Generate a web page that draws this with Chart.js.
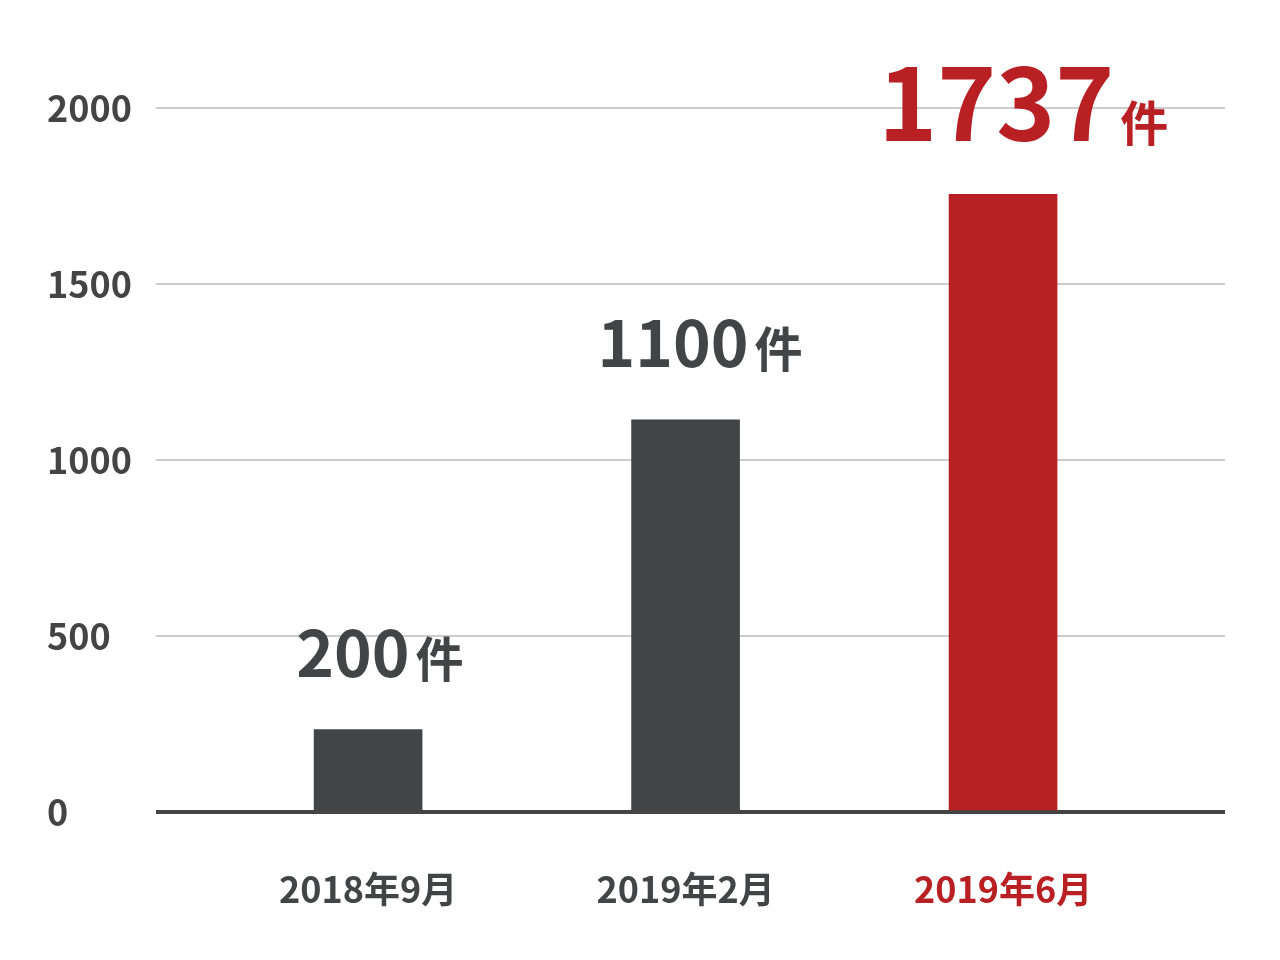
<!DOCTYPE html>
<html lang="ja">
<head>
<meta charset="utf-8">
<title>件数の推移</title>
<script src="https://cdn.jsdelivr.net/npm/chart.js@4.4.1/dist/chart.umd.min.js"></script>
<style>
  html, body { margin: 0; padding: 0; background: #fff; }
  #wrap { width: 1280px; height: 960px; }
</style>
</head>
<body>
<div id="wrap"><canvas id="myChart"></canvas></div>
<script>
// data
const periods = ['2018年9月', '2019年2月', '2019年6月'];
const counts = [234, 1114, 1755];            // bar heights
const countLabels = ['200', '1100', '1737']; // numbers printed above the bars
const unit = '件';
const yTicks = [0, 500, 1000, 1500, 2000];

const gray = '#434446';
const red = '#b92024';
const barColors = [gray, gray, red];
const fontFamily = "'Noto Sans CJK JP', 'Noto Sans', sans-serif";

// big numbers above each bar
const valueLabels = {
  id: 'valueLabels',
  afterDatasetsDraw: function (chart) {
    const ctx = chart.ctx;
    const meta = chart.getDatasetMeta(0);
    meta.data.forEach(function (bar, i) {
      const big = i === 2 ? 100 : 64;
      ctx.save();
      ctx.fillStyle = barColors[i];
      ctx.textBaseline = 'alphabetic';
      ctx.textAlign = 'left';
      ctx.font = 'bold ' + big + 'px ' + fontFamily;
      const numW = ctx.measureText(countLabels[i]).width;
      ctx.font = 'bold 48px ' + fontFamily;
      const unitW = ctx.measureText(unit).width;
      const gap = 6;
      const w = numW + gap + unitW;
      const left = bar.x - w / 2 + w * 0.07;
      const base = bar.y - 53;
      ctx.font = 'bold ' + big + 'px ' + fontFamily;
      ctx.fillText(countLabels[i], left, base);
      ctx.font = 'bold 48px ' + fontFamily;
      ctx.fillText(unit, left + numW + gap, base);
      ctx.restore();
    });
  }
};

var myChart = new Chart(document.getElementById('myChart'), {
  type: 'bar',
  data: {
    datasets: [{
      data: counts.map(function (v, i) { return { x: i, y: v }; }),
      backgroundColor: barColors,
      barThickness: 108
    }]
  },
  options: {
    responsive: true,
    maintainAspectRatio: false,
    animation: false,
    devicePixelRatio: 1,
    layout: { padding: { left: 47, right: 55, top: 108, bottom: 0 } },
    plugins: {
      legend: { display: false },
      tooltip: { enabled: false }
    },
    scales: {
      x: {
        type: 'linear',
        offset: false,
        min: -0.668,
        max: 2.699,
        grid: { display: false, drawTicks: false, offset: false },
        border: { display: false },
        afterBuildTicks: function (s) {
          s.ticks = periods.map(function (p, i) { return { value: i }; });
        },
        afterFit: function (s) { s.height = 148; },
        ticks: {
          padding: 56,
          autoSkip: false,
          maxRotation: 0,
          color: function (c) { return barColors[c.index]; },
          font: { family: fontFamily, size: 36, weight: 'bold' },
          callback: function (v) { return periods[v]; }
        }
      },
      y: {
        min: 0,
        max: 2000,
        afterBuildTicks: function (s) {
          s.ticks = yTicks.map(function (v) { return { value: v }; });
        },
        afterFit: function (s) { s.width = 109; },
        grid: {
          drawTicks: false,
          color: function (c) { return c.tick.value === 0 ? '#444' : '#cccccc'; },
          lineWidth: function (c) { return c.tick.value === 0 ? 4 : 2; }
        },
        border: { display: false },
        ticks: {
          crossAlign: 'far',
          padding: 0,
          color: '#444',
          font: { family: fontFamily, size: 36, weight: 'bold' },
          callback: function (v) { return String(v); }
        }
      }
    }
  },
  plugins: [valueLabels]
});
</script>
</body>
</html>
